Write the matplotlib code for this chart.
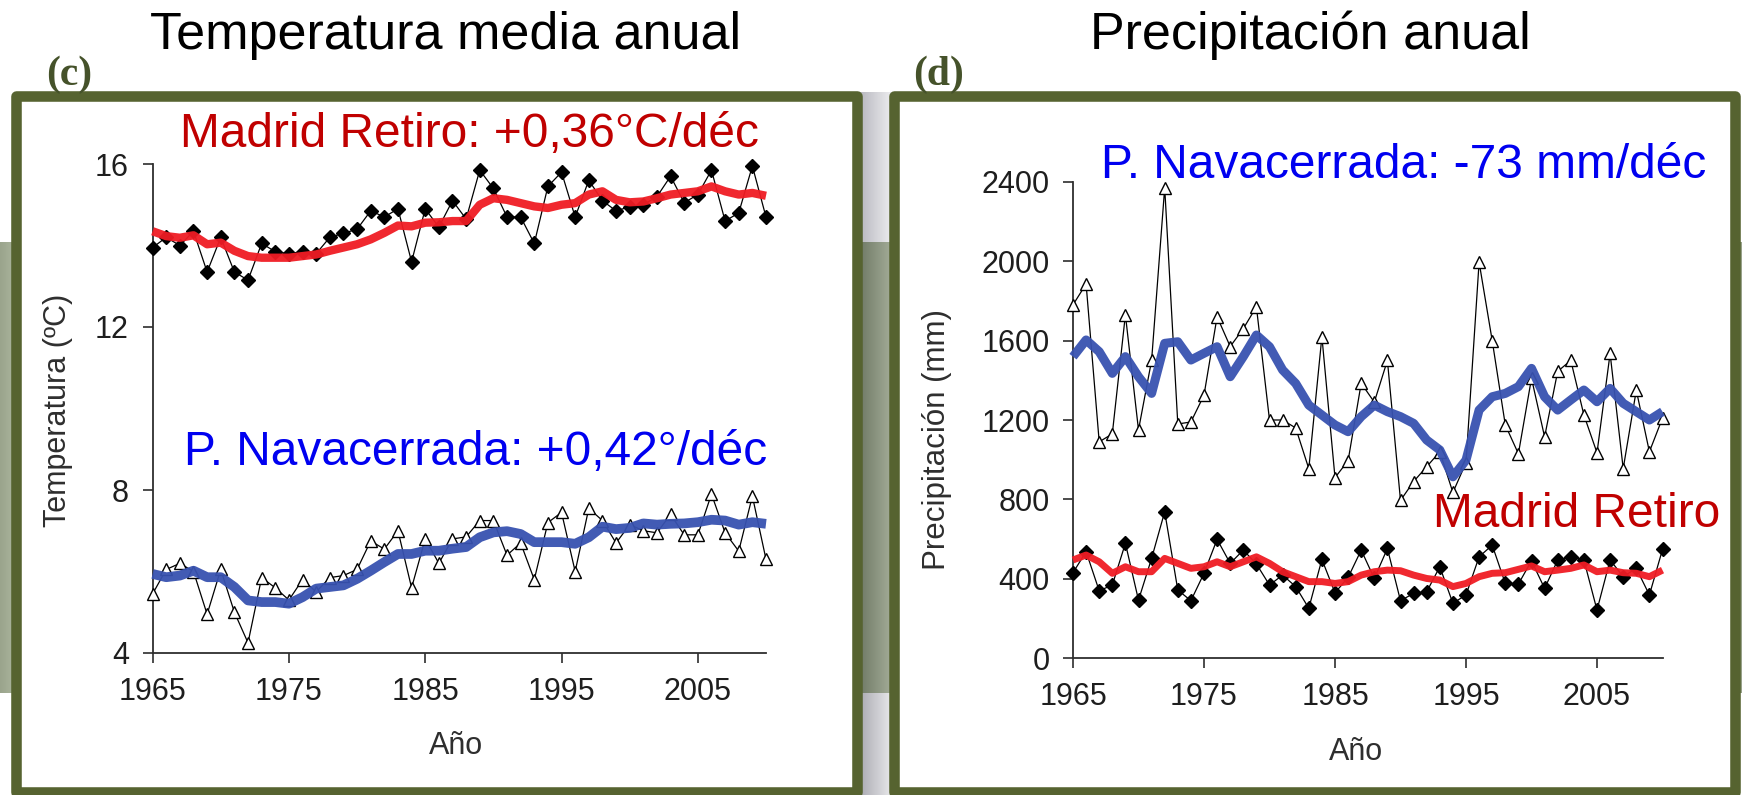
import numpy as np
import matplotlib
matplotlib.use("Agg")
import matplotlib.pyplot as plt
from matplotlib.patches import Rectangle
from matplotlib.colors import LinearSegmentedColormap

W, H, DPI = 1742, 795, 100

years = list(range(1965, 2011))

# Annual mean temperature (degC)
temp_madrid = [13.95, 14.2, 14.0, 14.35, 13.35, 14.2, 13.35, 13.15, 14.05, 13.85,
               13.8, 13.85, 13.8, 14.2, 14.3, 14.4, 14.85, 14.7, 14.9, 13.6,
               14.9, 14.45, 15.1, 14.65, 15.85, 15.4, 14.7, 14.7, 14.05, 15.45,
               15.8, 14.7, 15.6, 15.1, 14.85, 14.95, 15.0, 15.2, 15.7, 15.05,
               15.25, 15.85, 14.6, 14.8, 15.95, 14.7]
temp_madrid_smooth = [14.35, 14.23, 14.19, 14.25, 14.03, 14.07, 13.87, 13.74, 13.70, 13.70,
                      13.70, 13.74, 13.78, 13.87, 13.95, 14.03, 14.15, 14.31, 14.49, 14.47,
                      14.56, 14.57, 14.60, 14.60, 15.00, 15.16, 15.12, 15.04, 14.96, 14.92,
                      15.00, 15.04, 15.25, 15.33, 15.12, 15.06, 15.08, 15.16, 15.25, 15.29,
                      15.33, 15.45, 15.33, 15.25, 15.29, 15.22]
temp_nava = [5.45, 6.05, 6.2, 6.0, 4.95, 6.05, 5.0, 4.25, 5.85, 5.6,
             5.3, 5.8, 5.5, 5.85, 5.9, 6.05, 6.75, 6.55, 7.0, 5.6,
             6.8, 6.2, 6.8, 6.85, 7.25, 7.25, 6.4, 6.7, 5.8, 7.2,
             7.45, 6.0, 7.55, 7.25, 6.7, 7.15, 7.0, 6.95, 7.4, 6.9,
             6.9, 7.9, 6.95, 6.5, 7.85, 6.3]
temp_nava_smooth = [5.94, 5.86, 5.90, 6.02, 5.86, 5.86, 5.62, 5.29, 5.25, 5.25,
                    5.21, 5.37, 5.58, 5.62, 5.66, 5.82, 6.02, 6.23, 6.43, 6.43,
                    6.51, 6.51, 6.56, 6.60, 6.84, 6.96, 6.99, 6.92, 6.72, 6.72,
                    6.72, 6.68, 6.84, 7.10, 7.04, 7.07, 7.18, 7.15, 7.17, 7.18,
                    7.21, 7.27, 7.25, 7.15, 7.21, 7.17]

# Annual precipitation (mm)
prec_nava = [1780, 1885, 1090, 1130, 1730, 1150, 1500, 2370, 1180, 1190,
             1325, 1720, 1570, 1660, 1770, 1200, 1200, 1160, 955, 1620,
             910, 995, 1385, 1290, 1500, 795, 890, 965, 1040, 835,
             985, 1995, 1600, 1175, 1030, 1410, 1115, 1445, 1500, 1225,
             1035, 1535, 955, 1350, 1040, 1210]
prec_nava_smooth = [1519, 1603, 1544, 1435, 1519, 1418, 1334, 1586, 1594, 1502,
                    1536, 1569, 1418, 1519, 1628, 1569, 1452, 1384, 1275, 1225,
                    1175, 1141, 1217, 1275, 1242, 1217, 1183, 1099, 1049, 914,
                    998, 1250, 1317, 1334, 1368, 1460, 1317, 1250, 1301, 1351,
                    1292, 1359, 1284, 1242, 1200, 1242]
prec_madrid = [431, 537, 340, 369, 579, 293, 503, 738, 344, 290,
               428, 599, 478, 545, 475, 369, 419, 361, 252, 498,
               330, 407, 545, 402, 553, 290, 327, 335, 461, 277,
               319, 511, 570, 377, 374, 491, 352, 495, 511, 495,
               243, 495, 411, 453, 319, 548]
prec_madrid_smooth = [495, 520, 486, 428, 461, 436, 436, 503, 478, 453,
                      461, 486, 461, 486, 511, 478, 436, 411, 386, 386,
                      377, 386, 419, 436, 444, 441, 419, 402, 394, 361,
                      377, 411, 428, 431, 448, 465, 436, 444, 453, 470,
                      436, 444, 431, 428, 411, 444]

temp_ticks = [4, 8, 12, 16]
prec_ticks = [0, 400, 800, 1200, 1600, 2000, 2400]
year_ticks = [1965, 1975, 1985, 1995, 2005]

SANS = ["Liberation Sans", "DejaVu Sans"]
SERIF = ["Liberation Serif", "DejaVu Serif"]
plt.rcParams["font.family"] = SANS

OLIVE = "#566330"
AXC = "#2e2e2e"


def rect_px(x0, y_top, x1, y_bottom):
    return [x0 / W, 1 - y_bottom / H, (x1 - x0) / W, (y_bottom - y_top) / H]


fig = plt.figure(figsize=(W / DPI, H / DPI), dpi=DPI)
fig.patch.set_facecolor("white")

# Page-level layer in pixel units: slide background, frames, titles
bg = fig.add_axes([0, 0, 1, 1], zorder=-10)
bg.set_xlim(0, W)
bg.set_ylim(H, 0)
bg.axis("off")


def hgrad(x0, x1, y0, y1, c0, c1):
    cmap = LinearSegmentedColormap.from_list("g", [c0, c1])
    grad = np.linspace(0, 1, 64)[None, :]
    bg.imshow(grad, extent=(x0, x1, y1, y0), aspect="auto", cmap=cmap,
              interpolation="bilinear", zorder=0)


hgrad(857, 894, 92, 242, "#b4b4bc", "#f0f0f2")
hgrad(857, 894, 242, 693, "#6c7663", "#a6af9a")
hgrad(857, 894, 693, 795, "#a6a6ae", "#ececee")
hgrad(0, 12, 242, 693, "#9aa48c", "#a8b29a")
hgrad(1734, 1742, 242, 693, "#7f8a72", "#9aa48c")

for x0, x1 in [(16, 857), (894, 1735)]:
    bg.add_patch(Rectangle((x0, 95.5), x1 - x0, 792 - 95.5, facecolor="white",
                           edgecolor=OLIVE, linewidth=7.6, joinstyle="round",
                           zorder=1))

bg.text(446, 49, "Temperatura media anual", fontsize=37.5, ha="center",
        va="baseline", color="black")
bg.text(1310, 49, "Precipitación anual", fontsize=37.5, ha="center",
        va="baseline", color="black")
bg.text(69, 75, "(c)", fontsize=30, fontweight="bold", family=SERIF,
        ha="center", va="center", color="#45522a")
bg.text(939, 75, "(d)", fontsize=30, fontweight="bold", family=SERIF,
        ha="center", va="center", color="#45522a")

bg.text(469, 147, "Madrid Retiro: +0,36°C/déc", fontsize=34.5, ha="center",
        va="baseline", color="#c00000", zorder=5)
bg.text(476, 465, "P. Navacerrada: +0,42°/déc", fontsize=34.5, ha="center",
        va="baseline", color="#0000f0", zorder=5)
bg.text(1404, 178, "P. Navacerrada: -73 mm/déc", fontsize=34.5, ha="center",
        va="baseline", color="#0000f0", zorder=5)
bg.text(1577, 527, "Madrid Retiro", fontsize=34.5, ha="center",
        va="baseline", color="#c00000", zorder=5)

bg.text(58, 410, "Temperatura (ºC)", fontsize=22, rotation=90, ha="center",
        va="center", color=AXC)
bg.text(456, 746, "Año", fontsize=22, ha="center", va="center", color=AXC)
bg.text(937, 439, "Precipitación (mm)", fontsize=22.5, rotation=90, ha="center",
        va="center", color=AXC)
bg.text(1356, 752, "Año", fontsize=22, ha="center", va="center", color=AXC)


def style_axes(ax):
    ax.set_facecolor("none")
    for side in ("top", "right"):
        ax.spines[side].set_visible(False)
    for side in ("left", "bottom"):
        ax.spines[side].set_color(AXC)
        ax.spines[side].set_linewidth(1.3)
    ax.tick_params(direction="out", length=7, width=1.2, colors=AXC,
                   labelsize=22, pad=10, labelcolor="#1e1e1e")


def draw_series(ax, vals, smooth, marker, face, smooth_color, smooth_lw, ms):
    ax.plot(years, vals, color="black", linewidth=0.9, marker=marker,
            markersize=ms, markerfacecolor=face, markeredgecolor="black",
            markeredgewidth=1.0, clip_on=False, zorder=3)
    ax.plot(years, smooth, color=smooth_color, linewidth=smooth_lw,
            solid_capstyle="butt", clip_on=False, zorder=4, alpha=0.95)


# Temperature panel
ax1 = fig.add_axes(rect_px(152.6, 164, 766, 653))
style_axes(ax1)
ax1.set_xlim(1965, 2010)
ax1.set_ylim(4, 16)
ax1.set_xticks(year_ticks)
ax1.set_yticks(temp_ticks)
draw_series(ax1, temp_madrid, temp_madrid_smooth, "D", "black", "#f01c24", 6.0, 7.5)
draw_series(ax1, temp_nava, temp_nava_smooth, "^", "white", "#3852b0", 7.0, 8.5)

# Precipitation panel
ax2 = fig.add_axes(rect_px(1073, 181.7, 1662.5, 658.3))
style_axes(ax2)
ax2.set_xlim(1965, 2010)
ax2.set_ylim(0, 2400)
ax2.set_xticks(year_ticks)
ax2.set_yticks(prec_ticks)
draw_series(ax2, prec_nava, prec_nava_smooth, "^", "white", "#3852b0", 6.5, 8.5)
draw_series(ax2, prec_madrid, prec_madrid_smooth, "D", "black", "#f01c24", 5.0, 7.5)

fig.savefig("out.png", dpi=DPI)
